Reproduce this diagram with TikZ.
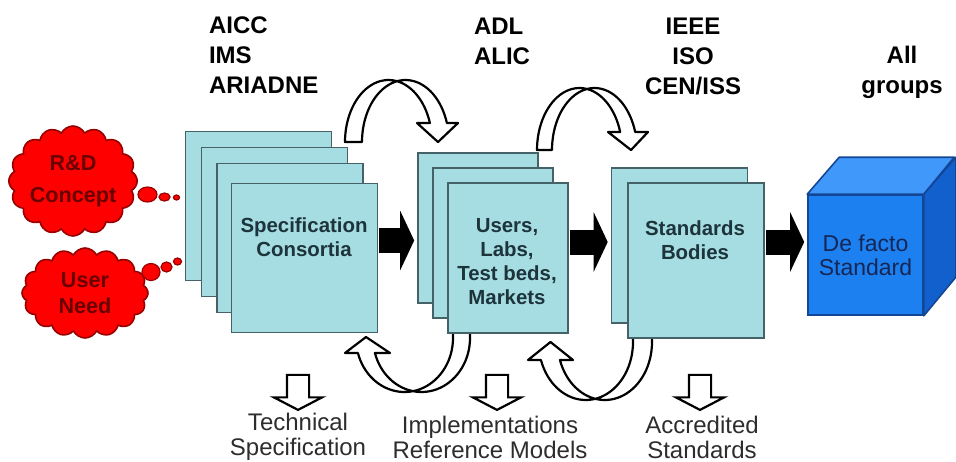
\documentclass[tikz,border=0pt]{standalone}
\usepackage{fontspec}
\setmainfont{Liberation Sans}
\usetikzlibrary{positioning,calc,shapes.symbols,shapes.geometric,shapes.arrows,arrows.meta}

\definecolor{cardfill}{RGB}{166,221,226}
\definecolor{cardline}{RGB}{68,98,104}
\definecolor{cardink}{RGB}{28,52,58}
\definecolor{cloudred}{RGB}{255,0,0}
\definecolor{cloudline}{RGB}{150,0,0}
\definecolor{cloudink}{RGB}{105,0,0}
\definecolor{cubefront}{RGB}{28,128,240}
\definecolor{cubetop}{RGB}{64,152,250}
\definecolor{cubeside}{RGB}{18,96,205}
\definecolor{cubeline}{RGB}{20,70,150}
\definecolor{cubeink}{RGB}{22,38,85}
\definecolor{labelink}{RGB}{45,45,45}

\tikzset{
  card/.style={draw=cardline, fill=cardfill, line width=0.8pt, inner sep=0pt},
  cardtext/.style={text=cardink, font=\fontsize{10.2}{12}\selectfont\bfseries, align=center},
  thought/.style={cloud, cloud puffs=16, cloud puff arc=125, cloud ignores aspect,
    fill=cloudred, draw=cloudline, line width=0.8pt, text=cloudink,
    font=\fontsize{10.8}{13}\selectfont\bfseries, align=center, inner sep=0pt},
  puff/.style={ellipse, fill=cloudred, draw=cloudline, line width=0.6pt, inner sep=0pt},
  group/.style={font=\fontsize{12}{15}\selectfont\bfseries},
  outcome/.style={text=labelink, font=\fontsize{12}{12.5}\selectfont, align=center},
  hollow/.style={draw=black, fill=white, line width=1.1pt, line join=round, samples=40},
  downarrow/.style={single arrow, rotate=-90, draw=black, fill=white, line width=1.1pt,
    inner sep=5pt, minimum height=17.5pt, minimum width=23pt,
    single arrow head extend=6.5pt, single arrow tip angle=125},
  bigarrow/.style={line width=12.5pt, -{Triangle[length=7pt,width=29.5pt]},
    shorten <=0.5pt, shorten >=1.5pt}
}

\begin{document}
\begin{tikzpicture}[x=0.5pt, y=-0.5pt]
  \useasboundingbox (0,0) rectangle (956,461);
  % loops going back under the stacks
  \draw[hollow] (453,328) -- plot[domain=0:163.9] ({404.5+48.5*cos(\x)},{338+54*sin(\x)})
    -- (345,353) -- (366,337) -- (390,353)
    -- plot[domain=163.9:0] ({421.5+48.5*cos(\x)},{338+54*sin(\x)}) -- (470,328) -- cycle;
  \draw[hollow] (633,330) -- plot[domain=0:161.9] ({585.8+47.2*cos(\x)},{342+58*sin(\x)})
    -- (528,360) -- (550.5,342) -- (573,360)
    -- plot[domain=161.9:0] ({604.8+47.2*cos(\x)},{342+58*sin(\x)}) -- (652,330) -- cycle;
  % loops going forward over the stacks
  \draw[hollow] plot[domain=180:17.8] ({388.5+43.5*cos(\x)},{142-62*sin(\x)})
    -- (417,123) -- (438,142) -- (458,123)
    -- plot[domain=17.8:180] ({405.5+43.5*cos(\x)},{142-62*sin(\x)}) -- cycle;
  \draw[hollow] plot[domain=180:16.9] ({579.5+42.5*cos(\x)},{150-62*sin(\x)})
    -- (608,132) -- (631,150) -- (648,132)
    -- plot[domain=16.9:180] ({594.5+42.5*cos(\x)},{150-62*sin(\x)}) -- cycle;
  %
  \node[thought, minimum width=61.5pt, minimum height=55pt] (rdconcept) at (73,181) {R\&D\\[3pt]Concept};
  \node[thought, minimum width=63pt, minimum height=45pt] (userneed) at (85,293) {User\\Need};
  \node[puff, minimum width=9.5pt, minimum height=7.5pt] (rdpuffa) at (147.5,194.5) {};
  \node[puff, minimum width=5.5pt, minimum height=4pt] (rdpuffb) at (164.5,197) {};
  \node[puff, minimum width=3pt, minimum height=2.5pt] (rdpuffc) at (176.5,197.5) {};
  \node[puff, minimum width=9pt, minimum height=8.5pt] (needpuffa) at (151,272) {};
  \node[puff, minimum width=5.5pt, minimum height=5pt] (needpuffb) at (166.5,267) {};
  \node[puff, minimum width=4pt, minimum height=3.5pt] (needpuffc) at (177.5,261.5) {};
  %
  \node[card, minimum width=73pt, minimum height=74.5pt] (spec1) at (258.5,206) {};
  \node[card, minimum width=73pt, minimum height=74.5pt] (spec2) at (274.5,222) {};
  \node[card, minimum width=73pt, minimum height=74.5pt] (spec3) at (290,238) {};
  \node[card, minimum width=73pt, minimum height=74.5pt] (spec4) at (304.5,258) {};
  \node[cardtext] (spectext) at (304,237) {Specification\\Consortia};
  %
  \node[card, minimum width=60pt, minimum height=75pt] (users1) at (478,228) {};
  \node[card, minimum width=60pt, minimum height=75pt] (users2) at (493,243) {};
  \node[card, minimum width=60pt, minimum height=75pt] (users3) at (508,258) {};
  \node[cardtext] (userstext) at (507,262) {Users,\\Labs,\\Test beds,\\Markets};
  %
  \node[card, minimum width=68pt, minimum height=77.5pt] (stand1) at (679.5,245.5) {};
  \node[card, minimum width=68pt, minimum height=77.5pt] (stand2) at (696,260.5) {};
  \node[cardtext] (standtext) at (695,240) {Standards\\Bodies};
  %
  \node[draw=cubeline, fill=cubefront, line width=0.8pt, minimum width=57.5pt, minimum height=60pt,
    text=cubeink, font=\fontsize{11.5}{12}\selectfont, align=center] (defacto) at (865.5,255) {De facto\\Standard};
  \draw[draw=cubeline, fill=cubetop, line width=0.8pt, line join=round]
    (defacto.north west) -- ++(32,-37) -- ++(115,0) -- (defacto.north east) -- cycle;
  \draw[draw=cubeline, fill=cubeside, line width=0.8pt, line join=round]
    (defacto.north east) -- ++(32,-37) -- ++(0,120) -- (defacto.south east) -- cycle;
  %
  \draw[bigarrow] ([yshift=8.75pt]spec4.east) coordinate (pusha) -- (pusha -| users1.west);
  \draw[bigarrow] ([yshift=8pt]users3.east) coordinate (pushb) -- (pushb -| stand1.west);
  \draw[bigarrow] ([yshift=9.25pt]stand2.east) coordinate (pushc) -- (pushc -| defacto.west);
  %
  \node[group, anchor=west, align=left] (consortia) at (202,55) {AICC\\IMS\\ARIADNE};
  \node[group, anchor=west, align=left] (labs) at (467,41) {ADL\\ALIC};
  \node[group, align=center] (bodies) at (693,56) {IEEE\\ISO\\CEN/ISS};
  \node[group, align=center] (everyone) at (902,72) {All\\groups};
  %
  \node[downarrow] (techarrow) at (298,389.5) {};
  \node[downarrow] (implarrow) at (497,389.5) {};
  \node[downarrow] (accredarrow) at (700,389.5) {};
  \node[outcome] (techspec) at (298,437) {Technical\\Specification};
  \node[outcome] (implref) at (490,437) {Implementations\\Reference Models};
  \node[outcome] (accredstd) at (702,437) {Accredited\\Standards};
\end{tikzpicture}
\end{document}
